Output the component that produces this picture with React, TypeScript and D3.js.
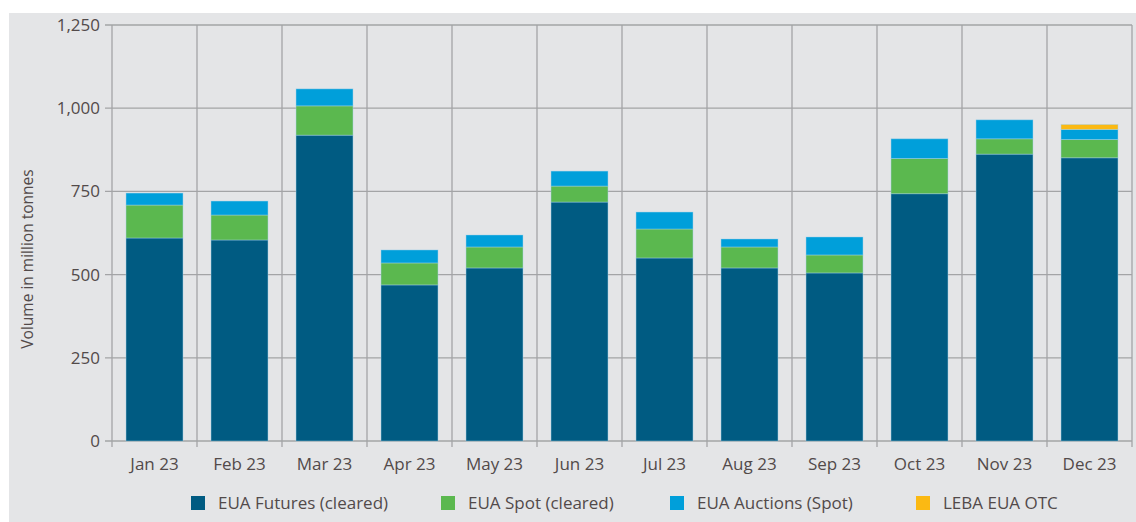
import React, { useEffect, useRef } from 'react';
import * as d3 from 'd3';

// monthly volumes in million tonnes
const months = ['Jan 23', 'Feb 23', 'Mar 23', 'Apr 23', 'May 23', 'Jun 23', 'Jul 23', 'Aug 23', 'Sep 23', 'Oct 23', 'Nov 23', 'Dec 23'];
const futures = [610, 604, 919, 469, 520, 718, 550, 520, 505, 743, 862, 851];
const spot = [99, 75, 88, 66, 63, 48, 87, 63, 54, 106, 46, 55];
const auctions = [36, 42, 51, 39, 36, 45, 51, 24, 54, 59, 57, 30];
const leba = [0, 0, 0, 0, 0, 0, 0, 0, 0, 0, 0, 15];
const seriesNames = ['EUA Futures (cleared)', 'EUA Spot (cleared)', 'EUA Auctions (Spot)', 'LEBA EUA OTC'];
const seriesColors = ['#005b82', '#5bb84f', '#009fda', '#fbb913'];
const yTicks = [0, 250, 500, 750, 1000, 1250];

const W = 1136;
const H = 522;
const FONT = '"Open Sans", sans-serif';
const TEXT = '#524a4a';
const GRID = '#a3a4a6';

export default function App() {
  const ref = useRef<SVGSVGElement>(null);

  useEffect(() => {
    const svg = d3.select(ref.current);
    svg.selectAll('*').remove(); // start clean

    const m = { left: 112, right: 1132, top: 25, bottom: 441 };

    svg.append('rect').attr('x', 9).attr('y', 13).attr('width', W - 9).attr('height', H - 13).attr('fill', '#e4e5e7');

    const x = d3.scaleBand().domain(months).range([m.left, m.right]).paddingInner(0.33).paddingOuter(0.165);
    const y = d3.scaleLinear().domain([0, 1250]).range([m.bottom, m.top]);

    const g = svg.append('g');

    // horizontal grid + left ticks
    yTicks.forEach(t => {
      g.append('line')
        .attr('x1', m.left - 7).attr('x2', m.right)
        .attr('y1', y(t)).attr('y2', y(t))
        .attr('stroke', GRID).attr('stroke-width', 1.3);
      g.append('text')
        .attr('x', m.left - 12).attr('y', y(t))
        .attr('dy', '0.35em')
        .attr('text-anchor', 'end')
        .attr('font-family', FONT).attr('font-size', 17).attr('font-weight', 500)
        .attr('fill', TEXT)
        .text(d3.format(',')(t));
    });

    // vertical grid at band boundaries
    const step = x.step();
    d3.range(months.length + 1).forEach(i => {
      const xx = m.left + i * step;
      g.append('line')
        .attr('x1', xx).attr('x2', xx)
        .attr('y1', m.top).attr('y2', m.bottom + 6)
        .attr('stroke', GRID).attr('stroke-width', 1.3);
    });

    // stacked bars
    const table = months.map((mo, i) => ({ month: mo, f: futures[i], s: spot[i], a: auctions[i], l: leba[i] }));
    const stack = d3.stack<any>().keys(['f', 's', 'a', 'l']);
    const layers = stack(table);

    layers.forEach((layer, k) => {
      g.append('g')
        .selectAll('rect')
        .data(layer.filter(d => d[1] - d[0] > 0))
        .enter()
        .append('rect')
        .attr('x', d => x(d.data.month) as number)
        .attr('width', x.bandwidth())
        .attr('y', d => y(d[1]))
        .attr('height', d => y(d[0]) - y(d[1]))
        .attr('fill', seriesColors[k])
        .attr('stroke', 'rgba(160,210,235,0.55)')
        .attr('stroke-width', 0.8);
    });

    // month labels
    months.forEach(mo => {
      g.append('text')
        .attr('x', (x(mo) as number) + x.bandwidth() / 2)
        .attr('y', 470)
        .attr('text-anchor', 'middle')
        .attr('font-family', FONT).attr('font-size', 17).attr('font-weight', 500)
        .attr('fill', TEXT)
        .text(mo);
    });

    // y axis title
    g.append('text')
      .attr('transform', `translate(28, 259) rotate(-90)`)
      .attr('text-anchor', 'middle')
      .attr('dy', '0.35em')
      .attr('font-family', FONT).attr('font-size', 15.5).attr('font-weight', 500)
      .attr('fill', TEXT)
      .text('Volume in million tonnes');

    // legend
    const legendX = [191, 441, 670, 916];
    seriesNames.forEach((name, i) => {
      g.append('rect')
        .attr('x', legendX[i]).attr('y', 496)
        .attr('width', 14).attr('height', 14)
        .attr('fill', seriesColors[i]);
      g.append('text')
        .attr('x', legendX[i] + 27).attr('y', 503)
        .attr('dy', '0.35em')
        .attr('font-family', FONT).attr('font-size', 17).attr('font-weight', 500)
        .attr('fill', TEXT)
        .text(name);
    });
  }, []);

  return (
    <svg ref={ref} width={W} height={H} style={{ position: 'absolute', left: 0, top: 0 }} />
  );
}
